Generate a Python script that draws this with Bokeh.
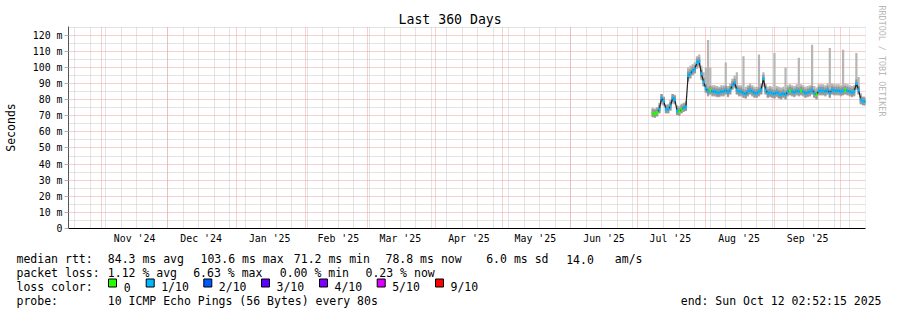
from datetime import datetime, timedelta
from bokeh.plotting import figure
from bokeh.models import Range1d, FixedTicker, Grid, Title
from bokeh.layouts import column, row
from bokeh.embed import file_html
from bokeh.resources import INLINE
from bokeh.core.properties import value

# ---------------- data ----------------
END = datetime(2025, 10, 12, 2, 52, 15)
START = END - timedelta(days=360)
FIRST_DAY = datetime(2025, 7, 8)   # first day with samples

# daily median rtt (ms), Jul 8 .. Oct 12 2025
median_rtt = [
    71.5, 71.2, 72.0, 74.0, 81.0, 79.0, 74.0, 74.0, 76.0, 81.0, 80.0, 73.0,   # Jul 8-19
    72.5, 74.0, 75.0, 75.5, 95.0, 96.0, 98.0, 99.0, 103.0, 103.6, 96.0, 91.0,  # Jul 20-31
    87.0, 85.0, 86.0, 85.0, 85.0, 84.5, 84.5, 85.0, 85.0, 86.0, 84.5, 86.0,  # Aug 1-12
    89.0, 90.5, 86.0, 85.0, 85.0, 84.0, 83.5, 85.0, 86.0, 85.0, 84.0, 84.0,  # Aug 13-24
    85.0, 86.0, 93.0, 86.0, 84.0, 84.5, 84.0,                                # Aug 25-31
    83.5, 84.5, 83.5, 83.0, 84.0, 83.0, 85.0, 85.5, 85.0, 84.5, 85.5, 85.0,  # Sep 1-12
    85.5, 85.0, 84.0, 84.5, 85.0, 86.0, 84.0, 83.0, 85.5, 85.5, 85.5, 85.0,  # Sep 13-24
    86.0, 84.0, 86.0, 85.5, 85.5, 85.5,                                      # Sep 25-30
    85.0, 85.5, 86.0, 85.5, 85.0, 84.5, 85.0, 90.0, 86.0, 80.0, 79.0, 78.8,  # Oct 1-12
]
# lost pings out of 10 (daily, same days)
loss_tenths = [
    0, 0, 0, 1, 1, 1, 1, 1, 1, 1, 1, 1,
    0, 0, 1, 1, 1, 1, 1, 1, 1, 1, 1, 1,
    1, 1, 0, 1, 1, 1, 1, 1, 1, 1, 1, 1,
    1, 1, 1, 1, 1, 1, 1, 1, 1, 1, 1, 1,
    1, 1, 1, 1, 1, 1, 1,
    1, 1, 1, 1, 1, 1, 1, 0, 1, 1, 1, 1,
    0, 1, 1, 1, 1, 1, 1, 0, 1, 1, 1, 1,
    1, 1, 1, 1, 1, 1,
    1, 1, 0, 1, 1, 1, 1, 1, 1, 1, 1, 1,
]
# smoke: lowest and highest ping of each day (ms)
smoke_min = [
    69.5, 69.5, 70.0, 71.5, 77.0, 76.0, 71.5, 71.5, 73.0, 77.5, 77.0, 71.0,
    70.5, 71.5, 72.5, 73.0, 91.0, 93.0, 95.0, 96.0, 99.0, 100.0, 92.0, 88.0,
    84.0, 82.0, 83.0, 82.0, 82.0, 81.5, 81.5, 82.0, 82.0, 83.0, 81.5, 83.0,
    86.0, 87.0, 83.0, 82.0, 82.0, 81.0, 80.5, 82.0, 83.0, 82.0, 81.0, 81.0,
    82.0, 83.0, 88.0, 83.0, 81.0, 81.5, 81.0,
    80.5, 81.5, 80.5, 80.0, 81.0, 80.0, 82.0, 82.5, 82.0, 81.5, 82.5, 82.0,
    82.5, 82.0, 81.0, 81.5, 82.0, 83.0, 81.0, 80.0, 82.5, 82.5, 82.5, 82.0,
    83.0, 81.0, 83.0, 82.5, 82.5, 82.5,
    82.0, 82.5, 83.0, 82.5, 82.0, 81.5, 82.0, 86.0, 83.0, 77.0, 76.5, 76.5,
]
smoke_max = [
    75.0, 74.5, 75.5, 78.0, 83.5, 82.0, 77.0, 77.5, 80.0, 83.5, 83.0, 76.5,
    76.0, 77.5, 78.0, 79.0, 100.0, 101.0, 102.0, 103.0, 107.0, 108.0, 101.0, 97.0,
    100.0, 117.0, 100.0, 89.0, 89.0, 88.5, 88.0, 89.0, 89.0, 103.0, 88.5, 90.0,
    93.0, 95.0, 97.0, 89.0, 89.0, 107.0, 88.0, 89.0, 90.0, 89.0, 88.0, 88.0,
    108.0, 90.0, 97.0, 90.0, 88.0, 88.5, 88.0,
    109.0, 88.5, 88.0, 87.5, 88.0, 100.0, 89.0, 89.5, 89.0, 88.5, 89.5, 106.0,
    89.5, 89.0, 88.0, 88.5, 89.0, 114.0, 88.5, 87.5, 89.5, 89.5, 89.5, 89.0,
    90.0, 112.0, 90.0, 89.5, 89.5, 89.5,
    89.0, 111.0, 90.0, 89.5, 89.0, 88.5, 89.0, 109.0, 94.0, 84.0, 82.0, 82.0,
]

Y_TICKS = [0, 10, 20, 30, 40, 50, 60, 70, 80, 90, 100, 110, 120]
Y_LABELS = ["0", "10 m", "20 m", "30 m", "40 m", "50 m", "60 m", "70 m",
            "80 m", "90 m", "100 m", "110 m", "120 m"]
Y_MINOR = [5, 15, 25, 35, 45, 55, 65, 75, 85, 95, 105, 115, 125]

MONTH_LABELS = ["Nov '24", "Dec '24", "Jan '25", "Feb '25", "Mar '25", "Apr '25",
                "May '25", "Jun '25", "Jul '25", "Aug '25", "Sep '25"]
MONTH_LABEL_DAYS = [datetime(2024, 11, 16), datetime(2024, 12, 16), datetime(2025, 1, 16),
                    datetime(2025, 2, 16), datetime(2025, 3, 16), datetime(2025, 4, 16),
                    datetime(2025, 5, 16), datetime(2025, 6, 16), datetime(2025, 7, 16),
                    datetime(2025, 8, 16), datetime(2025, 9, 16)]
MONTH_STARTS = [datetime(2024, 11, 1), datetime(2024, 12, 1), datetime(2025, 1, 1),
                datetime(2025, 2, 1), datetime(2025, 3, 1), datetime(2025, 4, 1),
                datetime(2025, 5, 1), datetime(2025, 6, 1), datetime(2025, 7, 1),
                datetime(2025, 8, 1), datetime(2025, 9, 1), datetime(2025, 10, 1)]
FIRST_SUNDAY = datetime(2024, 10, 20)

LOSS_COLORS = {0: "#26ff00", 1: "#00b8ff", 2: "#0059ff", 3: "#5e00ff",
               4: "#7e00ff", 5: "#dd00ff", 9: "#ff0000"}
LEGEND_LOSS = [0, 1, 2, 3, 4, 5, 9]
LEGEND_LOSS_TEXT = ["0", "1/10", "2/10", "3/10", "4/10", "5/10", "9/10"]

TITLE = "Last 360 Days"
WATERMARK = "RRDTOOL / TOBI OETIKER"
STATS_RTT = ["median rtt:", "84.3 ms avg", "103.6 ms max", "71.2 ms min",
             "78.8 ms now", "6.0 ms sd", "14.0", "am/s"]
STATS_LOSS = ["packet loss:", "1.12 % avg", "6.63 % max", "0.00 % min", "0.23 % now"]
PROBE = ["probe:", "10 ICMP Echo Pings (56 Bytes) every 80s"]
END_TEXT = "end: Sun Oct 12 02:52:15 2025"

# ---------------- helpers ----------------
EPOCH = datetime(1970, 1, 1)


def ms(d):
    return int(round((d - EPOCH).total_seconds() * 1000))


DAY_MS = 86400000
start_ms, end_ms = ms(START), ms(END)
dates_ms = [ms(FIRST_DAY + timedelta(days=i)) for i in range(len(median_rtt))]
week_ms = []
d = FIRST_SUNDAY
while d < END:
    week_ms.append(ms(d))
    d += timedelta(days=7)
month_ms = [ms(m) for m in MONTH_STARTS]
label_ms = [ms(m) for m in MONTH_LABEL_DAYS]

FRAME_L, FRAME_W, FRAME_T, FRAME_H = 66, 799, 26, 202
TOP_H = 246
YMAX = 125.4
MONO = "DejaVu Sans Mono"

# ---------------- main chart ----------------
p = figure(width=897, height=TOP_H, x_axis_type="datetime",
           x_range=Range1d(start_ms, end_ms), y_range=Range1d(0, YMAX),
           output_backend="svg", toolbar_location=None,
           min_border_left=FRAME_L, min_border_right=897 - FRAME_L - FRAME_W,
           min_border_top=FRAME_T, min_border_bottom=TOP_H - FRAME_T - FRAME_H)
p.outline_line_color = None
p.background_fill_color = "white"
p.border_fill_color = "white"
p.xgrid.visible = False
p.ygrid.visible = False

# title, in the panel above the frame
p.title.text = TITLE
p.title.align = "left"
p.title.offset = 330
p.title.standoff = 0
p.title.text_font = MONO
p.title.text_font_size = "13.2px"
p.title.text_font_style = "normal"
p.title.text_color = "black"

# vertical watermark on the right
p.add_layout(Title(text=WATERMARK, align="left", offset=-21, vertical_align="top",
                   standoff=19, text_font=MONO, text_font_size="8.4px",
                   text_font_style="normal", text_color="#b8b8b8"), "right")

p.add_layout(Grid(dimension=0, ticker=FixedTicker(ticks=week_ms),
                  grid_line_color="#c8c8c8", grid_line_dash="1 1"))
p.add_layout(Grid(dimension=1, ticker=FixedTicker(ticks=Y_MINOR),
                  grid_line_color="#c8c8c8", grid_line_dash="1 1"))
p.add_layout(Grid(dimension=0, ticker=FixedTicker(ticks=month_ms),
                  grid_line_color="#f2a0a0", grid_line_dash="1 1"))
p.add_layout(Grid(dimension=1, ticker=FixedTicker(ticks=Y_TICKS[1:]),
                  grid_line_color="#f2a0a0", grid_line_dash="1 1"))

# smoke
p.vbar(x=dates_ms, top=smoke_max, bottom=smoke_min, width=DAY_MS,
       fill_color="#b6b6b6", line_color=None)
p.rect(x=dates_ms, y=median_rtt, width=DAY_MS, height=8, height_units="screen",
       fill_color="#969696", line_color=None)
# median line + loss colour band
p.line(x=dates_ms, y=median_rtt, line_color="#202020", line_width=1.2)
p.rect(x=dates_ms, y=median_rtt, width=DAY_MS, height=3, height_units="screen",
       fill_color=[LOSS_COLORS[v] for v in loss_tenths], line_color=None)

# axes
xa = p.xaxis[0]
xa.ticker = FixedTicker(ticks=label_ms)
xa.major_label_overrides = dict(zip(label_ms, MONTH_LABELS))
xa.major_tick_out = 0
xa.major_tick_in = 0
xa.minor_tick_out = 0
xa.minor_tick_in = 0
xa.axis_line_color = "black"
xa.major_label_text_font = MONO
xa.major_label_text_font_size = "9.9px"
xa.major_label_text_color = "black"
xa.major_label_standoff = 4

ya = p.yaxis[0]
ya.ticker = FixedTicker(ticks=Y_TICKS)
ya.major_label_overrides = dict(zip(Y_TICKS, Y_LABELS))
ya.major_tick_out = 4
ya.major_tick_in = 0
ya.minor_tick_out = 0
ya.minor_tick_in = 0
ya.major_tick_line_color = "#b0b0b0"
ya.axis_line_color = "#555555"
ya.major_label_text_font = MONO
ya.major_label_text_font_size = "9.9px"
ya.major_label_text_color = "black"
ya.major_label_standoff = 2
ya.axis_label = "Seconds"
ya.axis_label_text_font = MONO
ya.axis_label_text_font_size = "11.5px"
ya.axis_label_text_font_style = "normal"
ya.axis_label_text_color = "black"
ya.axis_label_standoff = 12

# ---------------- legend / stats area ----------------
q = figure(width=897, height=310 - TOP_H, x_range=Range1d(0, 897),
           y_range=Range1d(310, TOP_H), output_backend="svg", toolbar_location=None,
           min_border=0, x_axis_location=None, y_axis_location=None)
q.title.visible = False
q.outline_line_color = None
q.grid.visible = False

row1_x = [16, 107.3, 200, 293.3, 385, 485.7, 565.7, 614.3]
row2_x = [16, 107.3, 192.7, 279.3, 365]
sq_x = [112, 149.7, 207.3, 265, 323, 380.7, 439]
sq_text_x = [123.3, 160.7, 218.3, 276, 334, 391.7, 450]
probe_x = [16, 107.3]
txt = dict(text_font=value(MONO), text_font_size="11.5px", text_color="black",
           text_baseline="alphabetic")
q.text(x=row1_x, y=[258.5] * len(row1_x), text=STATS_RTT, **txt)
q.text(x=row2_x, y=[272.5] * len(row2_x), text=STATS_LOSS, **txt)
q.text(x=[16], y=[286.5], text=["loss color:"], **txt)
q.rect(x=sq_x, y=[282.5] * len(sq_x), width=8, height=8,
       fill_color=[LOSS_COLORS[v] for v in LEGEND_LOSS], line_color="black", line_width=1)
q.text(x=sq_text_x, y=[286.5] * len(sq_text_x), text=LEGEND_LOSS_TEXT, **txt)
q.text(x=probe_x, y=[300.5] * 2, text=PROBE, **txt)
q.text(x=[881], y=[300.5], text=[END_TEXT], text_align="right", **txt)

layout = column(p, row(q), spacing=0)
open("out.html", "w").write(file_html(layout, INLINE))
